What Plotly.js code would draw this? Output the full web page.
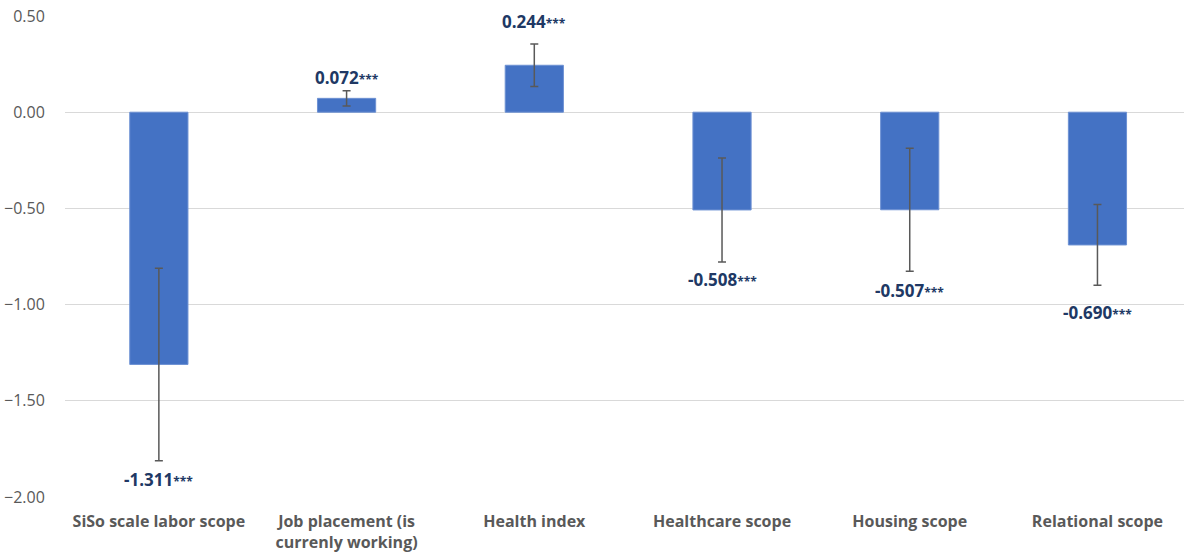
<!DOCTYPE html>
<html>
<head>
<meta charset="utf-8">
<script src="https://cdn.plot.ly/plotly-3.0.1.min.js"></script>
<style>html,body{margin:0;padding:0;background:#fff}#chart{width:1184px;height:558px}</style>
</head>
<body>
<div id="chart"></div>
<script>
const categories = ["SiSo scale labor scope", "Job placement (is<br>currenly working)", "Health index", "Healthcare scope", "Housing scope", "Relational scope"];
const coefficients = [-1.311, 0.072, 0.244, -0.508, -0.507, -0.690];
const errors = [0.50, 0.04, 0.11, 0.27, 0.32, 0.21];
const significance = ["***", "***", "***", "***", "***", "***"];
const yTicks = [-2.0, -1.5, -1.0, -0.5, 0.0, 0.5];

// label offsets from error-bar end, in pixels (layout only)
const labelOffsetPx = [19, 13, 23, 18, 19, 27];

const xIdx = categories.map((c, i) => i);
const font = "'Open Sans', sans-serif";

const trace = {
  type: "bar",
  x: xIdx,
  y: coefficients,
  width: 0.31,
  marker: {color: "#4472C4", line: {color: "#6d91d3", width: 1}},
  error_y: {type: "data", array: errors, visible: true, color: "#595959", thickness: 1.5, width: 4},
  hoverinfo: "skip"
};

const annotations = coefficients.map((v, i) => {
  const pos = v >= 0;
  return {
    x: i,
    y: pos ? v + errors[i] : v - errors[i],
    xref: "x", yref: "y",
    text: "<b>" + v.toFixed(3) + "</b><b><span style='font-size:12px'>" + significance[i] + "</span></b>",
    showarrow: false,
    yshift: pos ? labelOffsetPx[i] : -labelOffsetPx[i],
    xanchor: "center", yanchor: "middle",
    font: {family: font, size: 17, color: "#203864"}
  };
});

const layout = {
  width: 1184, height: 558,
  margin: {l: 65, r: 0, t: 16, b: 61, pad: 0},
  paper_bgcolor: "#fff", plot_bgcolor: "#fff",
  showlegend: false,
  xaxis: {
    range: [-0.5, 5.461],
    tickvals: xIdx,
    ticktext: categories,
    ticks: "outside", ticklen: 10, tickcolor: "rgba(0,0,0,0)",
    showgrid: false, zeroline: false, showline: false,
    tickfont: {family: font, size: 16, color: "#595959", weight: "bold"}
  },
  yaxis: {
    range: [-2.0, 0.5],
    tickvals: yTicks,
    tickformat: ".2f",
    ticks: "outside", ticklen: 16, tickcolor: "rgba(0,0,0,0)",
    showgrid: true, gridcolor: "#d9d9d9", gridwidth: 1,
    zeroline: true, zerolinecolor: "#d9d9d9", zerolinewidth: 1,
    showline: false,
    tickfont: {family: font, size: 16, color: "#595959"}
  },
  annotations: annotations
};

Plotly.newPlot("chart", [trace], layout, {displayModeBar: false, staticPlot: true});
</script>
</body>
</html>
